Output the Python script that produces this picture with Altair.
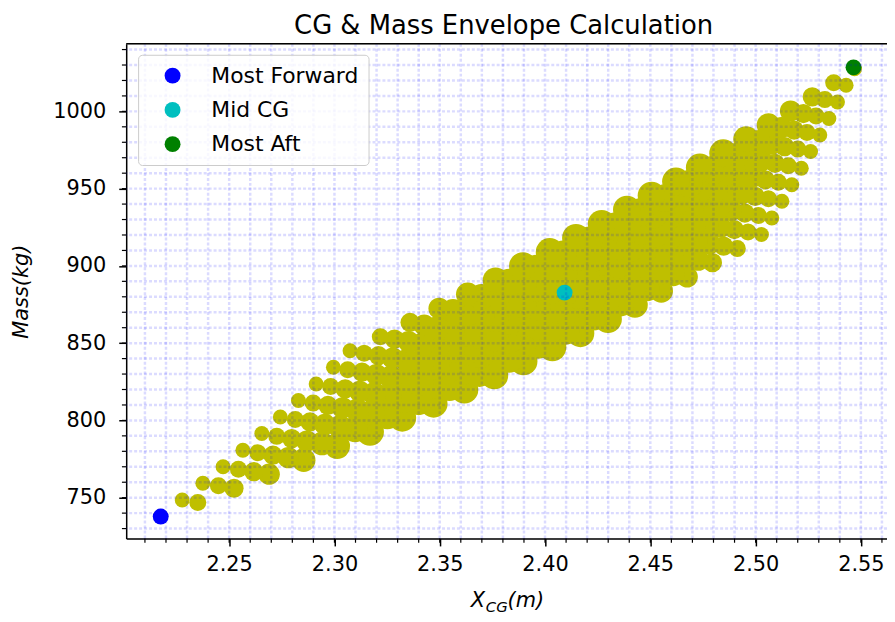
import altair as alt
import pandas as pd

TITLE = "CG & Mass Envelope Calculation"

# CG position (m) of every load case: one list per payload level, one value per fuel step
X_CG = [
    [2.2175, 2.2351, 2.2523, 2.2690, 2.2854, 2.3013, 2.3169, 2.3322, 2.3471, 2.3617, 2.3759, 2.3898, 2.4035, 2.4168, 2.4299, 2.4427, 2.4552, 2.4675, 2.4795, 2.4913, 2.5028],
    [2.2277, 2.2449, 2.2617, 2.2781, 2.2941, 2.3098, 2.3251, 2.3400, 2.3546, 2.3689, 2.3829, 2.3966, 2.4100, 2.4231, 2.4360, 2.4485, 2.4609, 2.4729, 2.4848, 2.4964, 2.5077],
    [2.2375, 2.2544, 2.2708, 2.2869, 2.3026, 2.3180, 2.3330, 2.3476, 2.3620, 2.3760, 2.3898, 2.4032, 2.4164, 2.4292, 2.4419, 2.4542, 2.4664, 2.4782, 2.4899, 2.5013, 2.5125],
    [2.2471, 2.2636, 2.2797, 2.2955, 2.3109, 2.3260, 2.3407, 2.3551, 2.3692, 2.3829, 2.3964, 2.4096, 2.4226, 2.4353, 2.4477, 2.4598, 2.4718, 2.4834, 2.4949, 2.5061, 2.5172],
    [2.2565, 2.2726, 2.2884, 2.3039, 2.3190, 2.3337, 2.3482, 2.3623, 2.3762, 2.3897, 2.4030, 2.4159, 2.4287, 2.4411, 2.4533, 2.4653, 2.4770, 2.4885, 2.4998, 2.5108, 2.5217],
    [2.2655, 2.2814, 2.2969, 2.3120, 2.3268, 2.3413, 2.3555, 2.3694, 2.3830, 2.3963, 2.4093, 2.4221, 2.4346, 2.4468, 2.4588, 2.4706, 2.4821, 2.4934, 2.5046, 2.5155, 2.5261],
    [2.2743, 2.2899, 2.3051, 2.3199, 2.3345, 2.3487, 2.3627, 2.3763, 2.3896, 2.4027, 2.4155, 2.4281, 2.4403, 2.4524, 2.4642, 2.4758, 2.4872, 2.4983, 2.5092, 2.5200, 2.5305],
    [2.2829, 2.2982, 2.3131, 2.3277, 2.3420, 2.3559, 2.3696, 2.3830, 2.3961, 2.4090, 2.4216, 2.4339, 2.4460, 2.4578, 2.4695, 2.4809, 2.4921, 2.5030, 2.5138, 2.5244, 2.5348],
    [2.2913, 2.3063, 2.3209, 2.3352, 2.3492, 2.3630, 2.3764, 2.3896, 2.4025, 2.4151, 2.4275, 2.4396, 2.4515, 2.4632, 2.4746, 2.4858, 2.4969, 2.5077, 2.5183, 2.5287, 2.5389],
    [2.2995, 2.3141, 2.3285, 2.3426, 2.3563, 2.3698, 2.3830, 2.3960, 2.4086, 2.4210, 2.4332, 2.4452, 2.4569, 2.4684, 2.4796, 2.4907, 2.5015, 2.5122, 2.5227, 2.5329, 2.5430],
    [2.3074, 2.3218, 2.3359, 2.3497, 2.3633, 2.3765, 2.3895, 2.4022, 2.4147, 2.4269, 2.4389, 2.4506, 2.4622, 2.4735, 2.4846, 2.4955, 2.5061, 2.5166, 2.5269, 2.5371, 2.5470],
]

# total mass (kg) of the same load cases
MASS = [
    [737.8, 746.9, 756.1, 765.2, 774.3, 783.4, 792.6, 801.7, 810.8, 819.9, 829.1, 838.2, 847.3, 856.4, 865.6, 874.7, 883.8, 892.9, 902.1, 911.2, 920.3],
    [748.5, 757.7, 766.8, 775.9, 785.0, 794.2, 803.3, 812.4, 821.5, 830.7, 839.8, 848.9, 858.0, 867.2, 876.3, 885.4, 894.5, 903.7, 912.8, 921.9, 931.0],
    [759.3, 768.4, 777.5, 786.6, 795.8, 804.9, 814.0, 823.1, 832.3, 841.4, 850.5, 859.6, 868.8, 877.9, 887.0, 896.1, 905.3, 914.4, 923.5, 932.6, 941.8],
    [770.0, 779.1, 788.2, 797.4, 806.5, 815.6, 824.7, 833.9, 843.0, 852.1, 861.2, 870.4, 879.5, 888.6, 897.7, 906.9, 916.0, 925.1, 934.2, 943.4, 952.5],
    [780.7, 789.8, 799.0, 808.1, 817.2, 826.3, 835.5, 844.6, 853.7, 862.8, 872.0, 881.1, 890.2, 899.3, 908.5, 917.6, 926.7, 935.8, 945.0, 954.1, 963.2],
    [791.5, 800.6, 809.7, 818.8, 828.0, 837.1, 846.2, 855.3, 864.5, 873.6, 882.7, 891.8, 901.0, 910.1, 919.2, 928.3, 937.5, 946.6, 955.7, 964.8, 974.0],
    [802.2, 811.3, 820.4, 829.6, 838.7, 847.8, 856.9, 866.1, 875.2, 884.3, 893.4, 902.6, 911.7, 920.8, 929.9, 939.1, 948.2, 957.3, 966.4, 975.6, 984.7],
    [812.9, 822.0, 831.2, 840.3, 849.4, 858.5, 867.7, 876.8, 885.9, 895.0, 904.2, 913.3, 922.4, 931.5, 940.7, 949.8, 958.9, 968.0, 977.2, 986.3, 995.4],
    [823.6, 832.8, 841.9, 851.0, 860.1, 869.3, 878.4, 887.5, 896.6, 905.8, 914.9, 924.0, 933.1, 942.3, 951.4, 960.5, 969.6, 978.8, 987.9, 997.0, 1006.1],
    [834.4, 843.5, 852.6, 861.7, 870.9, 880.0, 889.1, 898.2, 907.4, 916.5, 925.6, 934.7, 943.9, 953.0, 962.1, 971.2, 980.4, 989.5, 998.6, 1007.7, 1016.9],
    [845.1, 854.2, 863.4, 872.5, 881.6, 890.7, 899.9, 909.0, 918.1, 927.2, 936.4, 945.5, 954.6, 963.7, 972.9, 982.0, 991.1, 1000.2, 1009.4, 1018.5, 1027.6],
]

SPECIAL_NAMES = ["Most Forward", "Mid CG", "Most Aft"]
SPECIAL_X = [2.2175, 2.4093, 2.5465]
SPECIAL_MASS = [737.8, 882.7, 1028.5]
SPECIAL_COLORS = ["#0000ff", "#00bfbf", "#008000"]

X_MAJOR = [2.25, 2.30, 2.35, 2.40, 2.45, 2.50, 2.55]
Y_MAJOR = [750, 800, 850, 900, 950, 1000]
GRID_X = [2.21, 2.22, 2.23, 2.24, 2.25, 2.26, 2.27, 2.28, 2.29, 2.30, 2.31, 2.32,
          2.33, 2.34, 2.35, 2.36, 2.37, 2.38, 2.39, 2.40, 2.41, 2.42, 2.43, 2.44,
          2.45, 2.46, 2.47, 2.48, 2.49, 2.50, 2.51, 2.52, 2.53, 2.54, 2.55, 2.56]
GRID_Y = [730, 740, 750, 760, 770, 780, 790, 800, 810, 820, 830, 840, 850, 860,
          870, 880, 890, 900, 910, 920, 930, 940, 950, 960, 970, 980, 990, 1000,
          1010, 1020, 1030, 1040]

FONT = "DejaVu Sans"
W, H = 766, 498

# ---- tables ----
rows = []
for lvl, (xr, mr) in enumerate(zip(X_CG, MASS)):
    for step, (xv, mv) in enumerate(zip(xr, mr)):
        edge = min(step, len(xr) - 1 - step)
        r = 7.5 + 6.5 * min(1.0, edge / 6.0)
        rows.append({"x": xv, "mass": mv, "sz": (2 * r) ** 2})
cases = pd.DataFrame(rows)
special = pd.DataFrame({"x": SPECIAL_X, "mass": SPECIAL_MASS, "name": SPECIAL_NAMES})
gx = pd.DataFrame({"x": GRID_X})
gy = pd.DataFrame({"mass": GRID_Y})
one = pd.DataFrame({"k": [0]})

xs = alt.Scale(domain=[2.2011, 2.5624], nice=False, zero=False)
ys = alt.Scale(domain=[723.6, 1043.7], nice=False, zero=False)

x_axis = alt.Axis(values=X_MAJOR, format=".2f", title=None, grid=False,
                  tickSize=7.5, tickWidth=1.5, tickColor="black",
                  domainColor="black", domainWidth=1.5,
                  labelFont=FONT, labelFontSize=21, labelColor="black",
                  labelPadding=8, labelFlush=False, labelOverlap=False)
y_axis = alt.Axis(values=Y_MAJOR, format="d", title="Mass(kg)", grid=False,
                  tickSize=7.5, tickWidth=1.5, tickColor="black",
                  domainColor="black", domainWidth=1.5,
                  labelFont=FONT, labelFontSize=21, labelColor="black",
                  labelPadding=13, labelFlush=False, labelOverlap=False,
                  titleFont=FONT, titleFontSize=21, titleFontStyle="italic",
                  titleFontWeight="normal", titleColor="black",
                  titleAngle=270, titleAlign="center", titleBaseline="middle",
                  titleX=-105, titleY=H / 2)

X_ENC = alt.X("x:Q", scale=xs, axis=x_axis)
Y_ENC = alt.Y("mass:Q", scale=ys, axis=y_axis)

pts = alt.Chart(cases).mark_circle(color="#bfbf00", opacity=1, strokeWidth=0).encode(
    x=X_ENC, y=Y_ENC,
    size=alt.Size("sz:Q", scale=None, legend=None),
)

spec = alt.Chart(special).mark_circle(opacity=1, size=256, strokeWidth=0).encode(
    x=X_ENC, y=Y_ENC,
    color=alt.Color("name:N",
                    scale=alt.Scale(domain=SPECIAL_NAMES, range=SPECIAL_COLORS),
                    sort=SPECIAL_NAMES,
                    legend=alt.Legend(title=None, orient="none", legendX=12, legendY=11,
                                      padding=10, symbolType="circle", symbolSize=256,
                                      symbolStrokeWidth=0, symbolOffset=13.7,
                                      labelOffset=28, labelFont=FONT, labelFontSize=22,
                                      labelColor="black", rowPadding=12.5,
                                      strokeColor="#cccccc",
                                      fillColor="rgba(255,255,255,0.8)",
                                      cornerRadius=4)),
)

grid_style = dict(color="#0000ff", strokeOpacity=0.14, strokeWidth=2.5, strokeDash=[3, 2])
vgrid = alt.Chart(gx).mark_rule(**grid_style).encode(x=X_ENC)
hgrid = alt.Chart(gy).mark_rule(**grid_style).encode(y=Y_ENC)

xminor = alt.Chart(gx).mark_rule(color="black", strokeWidth=1.2).encode(
    x=X_ENC, y=alt.value(H), y2=alt.value(H + 4.3))
yminor = alt.Chart(gy).mark_rule(color="black", strokeWidth=1.2).encode(
    y=Y_ENC, x=alt.value(0), x2=alt.value(-4.3))

top_spine = alt.Chart(one).mark_rule(color="black", strokeWidth=1.5).encode(
    x=alt.value(0), x2=alt.value(W), y=alt.value(0))

t_title = alt.Chart(one).mark_text(font=FONT, fontSize=26, color="black", align="center",
                                   baseline="alphabetic").encode(
    x=alt.value(W / 2 - 3), y=alt.value(-10), text=alt.value(TITLE))

tx_main = dict(font=FONT, fontStyle="italic", color="black", align="left", baseline="alphabetic")
t_x = alt.Chart(one).mark_text(fontSize=21, **tx_main).encode(
    x=alt.value(347), y=alt.value(567), text=alt.value("X"))
t_cg = alt.Chart(one).mark_text(fontSize=15, **tx_main).encode(
    x=alt.value(362), y=alt.value(572), text=alt.value("CG"))
t_m = alt.Chart(one).mark_text(fontSize=21, **tx_main).encode(
    x=alt.value(384), y=alt.value(567), text=alt.value("(m)"))

chart = alt.layer(pts, spec, vgrid, hgrid, xminor, yminor, top_spine,
                  t_title, t_x, t_cg, t_m).properties(
    width=W, height=H,
    autosize=alt.AutoSizeParams(type="none"),
    padding={"left": 119, "top": 34, "right": 0, "bottom": 80},
).configure_view(stroke=None).configure(background="white")

chart.save("out.html", embed_options={"renderer": "svg", "actions": False})
